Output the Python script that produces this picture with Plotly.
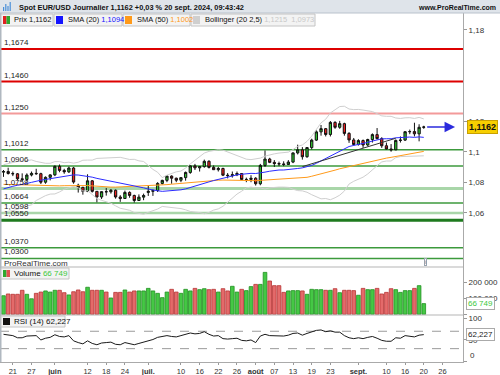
import plotly.graph_objects as go
import pandas as pd

# ---------------- data ----------------
all_days = pd.bdate_range("2024-05-17", "2024-10-04")
n_bars = 91
bar_dates = all_days[:n_bars]

opens = [1.0866,1.0870,1.0857,1.0855,1.0822,1.0818,1.0847,1.0858,1.0856,1.0800,
         1.0832,1.0848,1.0904,1.0877,1.0868,1.0893,1.0780,1.0766,1.0740,1.0809,
         1.0740,1.0703,1.0738,1.0737,1.0747,1.0703,1.0693,1.0733,1.0713,1.0680,
         1.0702,1.0733,1.0740,1.0745,1.0792,1.0812,1.0840,1.0826,1.0813,1.0830,
         1.0864,1.0907,1.0894,1.0902,1.0937,1.0897,1.0882,1.0890,1.0846,1.0843,
         1.0849,1.0857,1.0818,1.0818,1.0826,1.0790,1.0910,1.0952,1.0930,1.0922,
         1.0920,1.0916,1.0932,1.0992,1.1012,1.0967,1.1027,1.1076,1.1130,1.1151,
         1.1113,1.1192,1.1160,1.1184,1.1120,1.1077,1.1047,1.1073,1.1044,1.1080,
         1.1112,1.1086,1.1039,1.1018,1.1012,1.1074,1.1076,1.1131,1.1132,1.1117,
         1.1160]
highs = [1.0880,1.0895,1.0870,1.0860,1.0858,1.0858,1.0870,1.0888,1.0862,1.0838,
         1.0852,1.0910,1.0916,1.0888,1.0902,1.0900,1.0790,1.0770,1.0852,1.0814,
         1.0742,1.0740,1.0762,1.0755,1.0752,1.0715,1.0745,1.0740,1.0718,1.0720,
         1.0725,1.0776,1.0752,1.0800,1.0816,1.0845,1.0845,1.0830,1.0830,1.0870,
         1.0910,1.0920,1.0905,1.0948,1.0944,1.0910,1.0900,1.0895,1.0860,1.0870,
         1.0870,1.0858,1.0830,1.0846,1.0833,1.0920,1.1008,1.0960,1.0945,1.0935,
         1.0937,1.0945,1.0995,1.1046,1.1030,1.1030,1.1085,1.1140,1.1175,1.1155,
         1.1201,1.1200,1.1202,1.1190,1.1128,1.1090,1.1082,1.1080,1.1085,1.1120,
         1.1155,1.1095,1.1060,1.1050,1.1080,1.1100,1.1135,1.1145,1.1190,1.1180,
         1.1170]
lows = [1.0835,1.0850,1.0840,1.0812,1.0805,1.0805,1.0838,1.0848,1.0788,1.0790,
        1.0812,1.0840,1.0865,1.0855,1.0860,1.0790,1.0732,1.0718,1.0735,1.0732,
        1.0668,1.0690,1.0712,1.0725,1.0692,1.0671,1.0690,1.0698,1.0666,1.0678,
        1.0682,1.0710,1.0710,1.0736,1.0785,1.0800,1.0790,1.0800,1.0800,1.0810,
        1.0855,1.0880,1.0870,1.0895,1.0890,1.0880,1.0870,1.0840,1.0825,1.0830,
        1.0840,1.0815,1.0800,1.0800,1.0778,1.0780,1.0900,1.0925,1.0900,1.0905,
        1.0905,1.0915,1.0925,1.0982,1.0948,1.0960,1.1015,1.1070,1.1105,1.1100,
        1.1100,1.1150,1.1150,1.1105,1.1058,1.1040,1.1040,1.1025,1.1035,1.1060,
        1.1080,1.1025,1.1015,1.1000,1.1010,1.1060,1.1070,1.1115,1.1100,1.1068,
        1.1150]
closes = [1.0870,1.0857,1.0855,1.0822,1.0818,1.0847,1.0858,1.0856,1.0800,1.0832,
          1.0848,1.0904,1.0877,1.0868,1.0893,1.0801,1.0766,1.0740,1.0809,1.0740,
          1.0703,1.0738,1.0737,1.0747,1.0703,1.0693,1.0733,1.0713,1.0680,1.0702,
          1.0713,1.0740,1.0745,1.0792,1.0812,1.0840,1.0826,1.0813,1.0830,1.0864,
          1.0907,1.0894,1.0902,1.0937,1.0897,1.0882,1.0890,1.0846,1.0843,1.0849,
          1.0857,1.0818,1.0818,1.0826,1.0790,1.0910,1.0952,1.0930,1.0922,1.0920,
          1.0916,1.0932,1.0992,1.1012,1.0967,1.1027,1.1076,1.1130,1.1151,1.1113,
          1.1192,1.1160,1.1184,1.1120,1.1077,1.1047,1.1073,1.1044,1.1080,1.1112,
          1.1086,1.1039,1.1018,1.1012,1.1074,1.1076,1.1131,1.1132,1.1117,1.1160,
          1.1162]
sma20 = [1.0756,1.0766,1.0773,1.0780,1.0784,1.0792,1.0799,1.0808,1.0813,1.0818,
         1.0823,1.0829,1.0835,1.0841,1.0847,1.0848,1.0847,1.0843,1.0840,1.0833,
         1.0825,1.0819,1.0813,1.0809,1.0804,1.0796,1.0790,1.0782,1.0776,1.0770,
         1.0763,1.0755,1.0748,1.0744,1.0740,1.0742,1.0745,1.0749,1.0750,1.0756,
         1.0766,1.0774,1.0783,1.0792,1.0802,1.0811,1.0819,1.0826,1.0834,1.0841,
         1.0848,1.0852,1.0856,1.0858,1.0857,1.0860,1.0866,1.0872,1.0877,1.0880,
         1.0880,1.0882,1.0886,1.0890,1.0894,1.0901,1.0910,1.0924,1.0940,1.0953,
         1.0970,1.0987,1.1005,1.1020,1.1034,1.1041,1.1047,1.1053,1.1061,1.1070,
         1.1079,1.1084,1.1085,1.1085,1.1091,1.1093,1.1096,1.1096,1.1094,1.1097,
         1.1094]
sma50 = [1.0786,1.0785,1.0783,1.0781,1.0779,1.0778,1.0777,1.0777,1.0776,1.0774,
         1.0773,1.0775,1.0776,1.0777,1.0778,1.0778,1.0779,1.0778,1.0778,1.0776,
         1.0773,1.0771,1.0768,1.0768,1.0768,1.0769,1.0771,1.0773,1.0773,1.0774,
         1.0775,1.0777,1.0778,1.0780,1.0782,1.0784,1.0787,1.0790,1.0792,1.0795,
         1.0798,1.0800,1.0803,1.0807,1.0809,1.0811,1.0813,1.0814,1.0813,1.0813,
         1.0812,1.0812,1.0811,1.0811,1.0810,1.0812,1.0814,1.0815,1.0817,1.0819,
         1.0821,1.0821,1.0823,1.0826,1.0828,1.0832,1.0839,1.0846,1.0853,1.0861,
         1.0870,1.0879,1.0888,1.0895,1.0903,1.0910,1.0917,1.0923,1.0931,1.0939,
         1.0947,1.0953,1.0958,1.0963,1.0968,1.0973,1.0979,1.0985,1.0991,1.0997,
         1.1002]
boll_up = [1.0915,1.0923,1.0933,1.0936,1.0938,1.0940,1.0946,1.0936,1.0929,1.0924,
           1.0924,1.0935,1.0935,1.0928,1.0931,1.0925,1.0931,1.0944,1.0945,1.0945,
           1.0956,1.0957,1.0956,1.0956,1.0961,1.0963,1.0956,1.0949,1.0950,1.0940,
           1.0936,1.0908,1.0884,1.0865,1.0830,1.0846,1.0858,1.0868,1.0873,1.0893,
           1.0920,1.0944,1.0965,1.0991,1.1002,1.1006,1.1013,1.1010,1.0998,1.0987,
           1.0974,1.0964,1.0951,1.0948,1.0951,1.0958,1.0971,1.0980,1.0986,1.0991,
           1.0992,1.0997,1.1014,1.1035,1.1044,1.1068,1.1102,1.1146,1.1189,1.1213,
           1.1254,1.1275,1.1296,1.1298,1.1280,1.1276,1.1277,1.1273,1.1268,1.1263,
           1.1250,1.1235,1.1232,1.1232,1.1221,1.1218,1.1222,1.1223,1.1218,1.1225,
           1.1215]
boll_lo = [1.0597,1.0609,1.0613,1.0624,1.0630,1.0643,1.0652,1.0680,1.0697,1.0712,
           1.0722,1.0723,1.0736,1.0754,1.0763,1.0771,1.0764,1.0742,1.0744,1.0719,
           1.0694,1.0681,1.0670,1.0662,1.0645,1.0629,1.0623,1.0616,1.0601,1.0594,
           1.0590,1.0602,1.0612,1.0624,1.0641,1.0638,1.0632,1.0630,1.0627,1.0619,
           1.0608,1.0604,1.0601,1.0593,1.0602,1.0617,1.0625,1.0642,1.0670,1.0695,
           1.0722,1.0741,1.0763,1.0768,1.0762,1.0762,1.0755,1.0763,1.0767,1.0768,
           1.0768,1.0766,1.0754,1.0745,1.0743,1.0734,1.0718,1.0702,1.0691,1.0693,
           1.0685,1.0698,1.0715,1.0742,1.0788,1.0806,1.0817,1.0833,1.0854,1.0878,
           1.0908,1.0933,1.0939,1.0939,1.0961,1.0968,1.0969,1.0969,1.0971,1.0969,
           1.0973]
volumes = [116000,127000,125000,125000,150000,125000,97000,131000,139000,146000,
           139000,150000,150000,135000,121000,141000,152000,141000,169000,150000,
           150000,150000,139000,102000,137000,137000,152000,139000,146000,146000,
           146000,162000,146000,131000,104000,139000,156000,139000,131000,156000,
           146000,162000,154000,160000,154000,156000,139000,160000,146000,175000,
           139000,156000,148000,173000,187000,187000,262000,208000,179000,179000,
           137000,146000,148000,148000,146000,125000,156000,154000,154000,150000,
           150000,160000,135000,150000,150000,148000,119000,162000,154000,154000,
           162000,127000,137000,160000,154000,137000,148000,148000,162000,179000,
           66749]
rsi = [63,61,60,55,55,59,60,60,50,54,
       56,62,58,57,60,48,44,41,48,42,
       39,43,44,45,40,39,44,42,39,42,
       45,48,51,56,58,60,58,57,60,63,
       66,64,65,69,63,59,60,53,52,53,
       54,49,48,50,44,59,63,60,60,59,
       59,61,65,66,61,65,69,72,73,69,
       71,68,68,60,55,53,55,53,56,58,
       54,49,47,47,55,54,60,58,57,61,
       62.227]
rsi_levels = [70, 30]

trend_dates = ["2024-08-15", "2024-09-12"]
trend_prices = [1.0902, 1.1088]

levels = [1.1674, 1.1460, 1.1250, 1.1012, 1.0906, 1.0758, 1.0664, 1.0598, 1.0550, 1.0370, 1.0300]
level_labels = ["1,1674", "1,1460", "1,1250", "1,1012", "1,0906", "1,0758", "1,0664",
                "1,0598", "1,0550", "1,0370", "1,0300"]
level_colors = ["#dd0000", "#dd0000", "#f39a9a", "#3c9a3c", "#3c9a3c", "#a9d6a9", "#3c9a3c",
                "#a9d6a9", "#1e7a1e", "#3c9a3c", "#3c9a3c"]
level_widths = [2, 2, 2, 1.5, 1.5, 3, 1.5, 2.5, 3, 1.5, 1.5]

tick_dates = ["2024-05-21", "2024-05-27", "2024-06-03", "2024-06-12", "2024-06-18", "2024-06-24",
              "2024-07-01", "2024-07-10", "2024-07-16", "2024-07-22", "2024-07-26", "2024-08-01",
              "2024-08-07", "2024-08-13", "2024-08-19", "2024-08-23", "2024-09-02", "2024-09-10",
              "2024-09-16", "2024-09-20", "2024-09-26"]
tick_text = ["21", "27", "<b>juin</b>", "12", "18", "24", "<b>juil.</b>", "10", "16", "22", "26",
             "<b>août</b>", "07", "13", "19", "23", "<b>sept.</b>", "10", "16", "20", "26"]
price_tickvals = [1.06, 1.08, 1.10, 1.12, 1.18]
price_ticktext = ["1,06", "1,08", "1,1", "1,12", "1,18"]
vol_tickvals = [0, 100000, 200000]
vol_ticktext = ["", "100 000", "200 000"]
rsi_tickvals = [0, 50, 100]
rsi_ticktext = ["", "50", "100"]

last_price = closes[-1]
last_vol = volumes[-1]
last_rsi = rsi[-1]

# ---------------- helpers ----------------
pos = {d.strftime("%Y-%m-%d"): i for i, d in enumerate(all_days)}
idx = list(range(n_bars))
tickvals = [pos[d] for d in tick_dates]
trend_x = [pos[d] for d in trend_dates]

PLOT_W = 463.0
PLOT_TOP, PLOT_BOT = 13.0, 362.0
PH = PLOT_BOT - PLOT_TOP


def px_x(px):
    return px / PLOT_W


def px_y(py):
    return (PLOT_BOT - py) / PH


FONT = "Liberation Sans, Arial, sans-serif"
GREEN = "#2fc02f"
RED = "#ee2020"

fig = go.Figure()

# Bollinger
fig.add_trace(go.Scatter(x=idx, y=boll_up, mode="lines", line=dict(color="#cfcfcf", width=1), hoverinfo="skip"))
fig.add_trace(go.Scatter(x=idx, y=boll_lo, mode="lines", line=dict(color="#cfcfcf", width=1), hoverinfo="skip"))
# SMAs
fig.add_trace(go.Scatter(x=idx, y=sma50, mode="lines", line=dict(color="#ff9a1a", width=1), hoverinfo="skip"))
fig.add_trace(go.Scatter(x=idx, y=sma20, mode="lines", line=dict(color="#2b2bff", width=1), hoverinfo="skip"))
# trend line
fig.add_trace(go.Scatter(x=trend_x, y=trend_prices, mode="lines", line=dict(color="#333333", width=1), hoverinfo="skip"))

# candles
fig.add_trace(go.Candlestick(
    x=idx, open=opens, high=highs, low=lows, close=closes,
    increasing=dict(fillcolor=GREEN, line=dict(color="#111111", width=1)),
    decreasing=dict(fillcolor=RED, line=dict(color="#111111", width=1)),
    whiskerwidth=0, hoverinfo="skip",
))

# volume
vcols = [("#45c845" if c >= o else "#e46a6a") for o, c in zip(opens, closes)]
vlines = [("#219121" if c >= o else "#b83434") for o, c in zip(opens, closes)]
fig.add_trace(go.Bar(x=idx, y=volumes, yaxis="y2", width=0.78,
                     marker=dict(color=vcols, line=dict(color=vlines, width=0.8)), hoverinfo="skip"))

# rsi
fig.add_trace(go.Scatter(x=idx, y=rsi, yaxis="y3", mode="lines", line=dict(color="#1a1a1a", width=1), hoverinfo="skip"))

shapes = []
annotations = []

# horizontal levels
for lv, lab, col, w in zip(levels, level_labels, level_colors, level_widths):
    shapes.append(dict(type="line", xref="paper", x0=0, x1=1, yref="y", y0=lv, y1=lv,
                       line=dict(color=col, width=w), layer="below"))
    annotations.append(dict(xref="paper", x=px_x(2), yref="y", y=lv, yshift=0, text=lab,
                            showarrow=False, xanchor="left", yanchor="bottom",
                            font=dict(family=FONT, size=8, color="#222222")))

# rsi dashed levels
for lv in rsi_levels:
    shapes.append(dict(type="line", xref="paper", x0=0, x1=1, yref="y3", y0=lv, y1=lv,
                       line=dict(color="#9a9a9a", width=1, dash="dash"), layer="below"))

# panel separators / borders
for py in (267, 315):
    shapes.append(dict(type="line", xref="paper", x0=0, x1=1, yref="paper", y0=px_y(py), y1=px_y(py),
                       line=dict(color="#b5b5b5", width=1)))
shapes.append(dict(type="line", xref="paper", x0=px_x(0.5), x1=px_x(0.5), yref="paper", y0=0, y1=1,
                   line=dict(color="#b0b8c0", width=2)))

# header bar
shapes.append(dict(type="rect", xref="paper", x0=0, x1=px_x(500), yref="paper", y0=px_y(13), y1=px_y(0),
                   fillcolor="#dfe4ea", line=dict(width=0), layer="above"))
shapes.append(dict(type="line", xref="paper", x0=0, x1=px_x(500), yref="paper", y0=px_y(13), y1=px_y(13),
                   line=dict(color="#b9c2cc", width=1)))
annotations.append(dict(xref="paper", x=px_x(17), yref="paper", y=px_y(7), xanchor="left", yanchor="middle",
                        text="<b>Spot EUR/USD Journalier 1,1162 +0,03 % 20 sept. 2024, 09:43:42</b>",
                        showarrow=False, font=dict(family=FONT, size=7.4, color="#111111")))
annotations.append(dict(xref="paper", x=px_x(498), yref="paper", y=px_y(7), xanchor="right", yanchor="middle",
                        text="<b>www.ProRealTime.com</b>", showarrow=False,
                        font=dict(family=FONT, size=7, color="#111111")))
# icon in header
for k, h in enumerate([4, 7, 5, 9]):
    shapes.append(dict(type="rect", xref="paper", yref="paper",
                       x0=px_x(3 + 2.2 * k), x1=px_x(4.2 + 2.2 * k), y0=px_y(11), y1=px_y(11 - h),
                       fillcolor="#4a8fd8", line=dict(width=0)))

# legend boxes (row 2)
legend_boxes = [(1, 53), (54, 122), (123, 190), (191, 315)]
for x0, x1 in legend_boxes:
    shapes.append(dict(type="rect", xref="paper", x0=px_x(x0), x1=px_x(x1), yref="paper",
                       y0=px_y(26), y1=px_y(14), fillcolor="#f3f3f3", line=dict(color="#c4c4c4", width=1)))
icon_specs = [(3, ["#e02020", "#2fa82f"]), (56, ["#1414ff"]), (125, ["#ff9a1a"]), (193, ["#cfcfcf"])]
for x0, cols in icon_specs:
    if len(cols) == 2:
        shapes.append(dict(type="rect", xref="paper", yref="paper", x0=px_x(x0), x1=px_x(x0 + 3.5),
                           y0=px_y(24), y1=px_y(16), fillcolor=cols[0], line=dict(width=0)))
        shapes.append(dict(type="rect", xref="paper", yref="paper", x0=px_x(x0 + 3.5), x1=px_x(x0 + 7),
                           y0=px_y(24), y1=px_y(16), fillcolor=cols[1], line=dict(width=0)))
    else:
        shapes.append(dict(type="rect", xref="paper", yref="paper", x0=px_x(x0), x1=px_x(x0 + 7),
                           y0=px_y(24), y1=px_y(16), fillcolor=cols[0], line=dict(width=0)))
leg_texts = [
    (12, "Prix 1,1162"),
    (66, "SMA (20) <span style='color:#1414ff'>1,1094</span>"),
    (135, "SMA (50) <span style='color:#ff9a1a'>1,1002</span>"),
    (203, "Bollinger (20 2,5) <span style='color:#c8c8c8'>1,1215  1,0973</span>"),
]
for x0, t in leg_texts:
    annotations.append(dict(xref="paper", x=px_x(x0), yref="paper", y=px_y(20), xanchor="left", yanchor="middle",
                            text=t, showarrow=False, font=dict(family=FONT, size=7.5, color="#111111")))

# volume legend
shapes.append(dict(type="rect", xref="paper", x0=px_x(1), x1=px_x(69), yref="paper",
                   y0=px_y(279), y1=px_y(268), fillcolor="#f3f3f3", line=dict(color="#c4c4c4", width=1)))
shapes.append(dict(type="rect", xref="paper", yref="paper", x0=px_x(3), x1=px_x(6.5),
                   y0=px_y(277), y1=px_y(270), fillcolor="#2fa82f", line=dict(width=0)))
shapes.append(dict(type="rect", xref="paper", yref="paper", x0=px_x(6.5), x1=px_x(10),
                   y0=px_y(277), y1=px_y(270), fillcolor="#e05050", line=dict(width=0)))
annotations.append(dict(xref="paper", x=px_x(12), yref="paper", y=px_y(273.5), xanchor="left", yanchor="middle",
                        text="Volume <span style='color:#3cc83c'>66 749</span>", showarrow=False,
                        font=dict(family=FONT, size=8, color="#111111")))
# rsi legend
shapes.append(dict(type="rect", xref="paper", x0=px_x(1), x1=px_x(65), yref="paper",
                   y0=px_y(327), y1=px_y(316), fillcolor="#f3f3f3", line=dict(color="#c4c4c4", width=1)))
shapes.append(dict(type="rect", xref="paper", yref="paper", x0=px_x(3), x1=px_x(10),
                   y0=px_y(325), y1=px_y(318), fillcolor="#111111", line=dict(width=0)))
annotations.append(dict(xref="paper", x=px_x(12), yref="paper", y=px_y(321.5), xanchor="left", yanchor="middle",
                        text="RSI (14) 62,227", showarrow=False, font=dict(family=FONT, size=8, color="#111111")))

# ProRealTime watermark + info box
annotations.append(dict(xref="paper", x=px_x(2), yref="paper", y=px_y(263), xanchor="left", yanchor="middle",
                        text="ProRealTime.com", showarrow=False, font=dict(family=FONT, size=8, color="#333333")))
annotations.append(dict(xref="paper", x=px_x(425), yref="paper", y=px_y(262), xanchor="center", yanchor="middle",
                        text="i", showarrow=False, bordercolor="#9aa4b0", borderwidth=1, borderpad=0,
                        bgcolor="#ffffff", font=dict(family=FONT, size=6, color="#667788")))

# zero labels sitting just above the panel floors
annotations.append(dict(xref="paper", x=px_x(468), yref="y2", y=0, xanchor="left", yanchor="bottom",
                        text="0", showarrow=False, font=dict(family=FONT, size=8, color="#333333")))
annotations.append(dict(xref="paper", x=px_x(468), yref="y3", y=0, xanchor="left", yanchor="bottom",
                        text="0", showarrow=False, font=dict(family=FONT, size=8, color="#333333")))

# arrow from last bar
annotations.append(dict(x=96.7, y=last_price, xref="x", yref="y", ax=90.4, ay=last_price, axref="x", ayref="y",
                        text="", showarrow=True, arrowhead=2, arrowsize=1.4, arrowwidth=1.5, arrowcolor="#2b2bdd"))

# right-side value boxes
annotations.append(dict(xref="paper", x=px_x(467), yref="y", y=last_price, xanchor="left", yanchor="middle",
                        text="<b>1,1162</b>", showarrow=False, bgcolor="#f7cf00", bordercolor="#c8a000",
                        borderwidth=1, borderpad=1, font=dict(family=FONT, size=9, color="#111111")))
annotations.append(dict(xref="paper", x=px_x(466), yref="y2", y=last_vol, xanchor="left", yanchor="middle",
                        text="66 749", showarrow=False, bgcolor="#ffffff", bordercolor="#aaaaaa",
                        borderwidth=1, borderpad=1, font=dict(family=FONT, size=8, color="#3cc83c")))
annotations.append(dict(xref="paper", x=px_x(466), yref="y3", y=last_rsi, xanchor="left", yanchor="middle",
                        text="62,227", showarrow=False, bgcolor="#ffffff", bordercolor="#aaaaaa",
                        borderwidth=1, borderpad=1, font=dict(family=FONT, size=8, color="#222222")))

axis_font = dict(family=FONT, size=8, color="#333333")
common_y = dict(side="right", ticks="outside", ticklen=3, tickcolor="#999999", tickfont=axis_font,
                showline=True, linecolor="#aaaaaa", showgrid=False, zeroline=False, anchor="x",
                automargin=False)
fig.update_layout(
    width=500, height=375,
    margin=dict(l=0, r=37, t=13, b=13),
    paper_bgcolor="#ffffff", plot_bgcolor="#ffffff",
    showlegend=False,
    shapes=shapes, annotations=annotations,
    bargap=0,
    xaxis=dict(range=[-0.75, 98.4], tickvals=tickvals, ticktext=tick_text, ticks="outside", ticklen=2,
               tickcolor="#999999", tickfont=dict(family=FONT, size=7.5, color="#333333"),
               showline=True, linecolor="#aaaaaa",
               showgrid=False, zeroline=False, anchor="y3", automargin=False,
               rangeslider=dict(visible=False)),
    yaxis=dict(domain=[px_y(267), 1], range=[1.02439, 1.19095], tickvals=price_tickvals,
               ticktext=price_ticktext, **common_y),
    yaxis2=dict(domain=[px_y(315), px_y(267)], range=[-4400, 295600], tickvals=vol_tickvals,
                ticktext=vol_ticktext, **common_y),
    yaxis3=dict(domain=[0, px_y(315)], range=[-0.7, 107.4], tickvals=rsi_tickvals,
                ticktext=rsi_ticktext, **common_y),
)

fig.write_html("out.html", config={"displayModeBar": False, "staticPlot": True},
               post_script="document.body.style.margin='0px';document.body.style.padding='0px';")
